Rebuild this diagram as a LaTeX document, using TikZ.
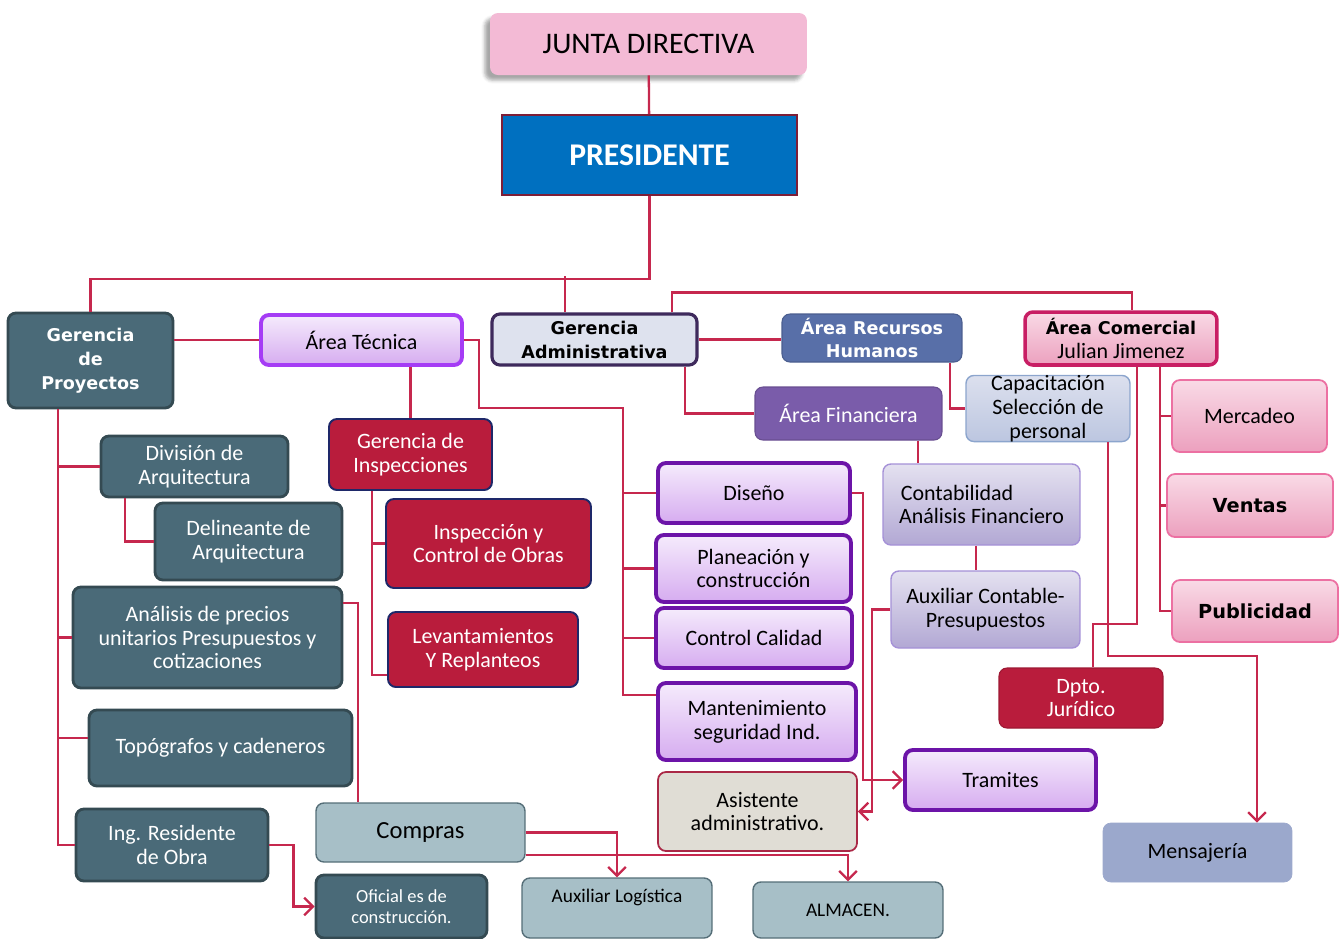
\documentclass[tikz,border=0pt]{standalone}
\usepackage{fontspec}
\setmainfont{Carlito}
\newfontfamily\heavyfont{DejaVu Sans}
\usepackage{tikz}
\usetikzlibrary{arrows.meta, shadows.blur}

\definecolor{linkred}{RGB}{198,40,78}
\definecolor{juntapink}{RGB}{243,186,213}
\definecolor{presblue}{RGB}{0,112,192}
\definecolor{presedge}{RGB}{125,30,55}
\definecolor{tealfill}{RGB}{74,106,120}
\definecolor{tealedge}{RGB}{52,74,82}
\definecolor{crimson}{RGB}{185,28,60}
\definecolor{navyedge}{RGB}{30,40,105}
\definecolor{lilactop}{RGB}{245,235,252}
\definecolor{lilacbot}{RGB}{214,172,240}
\definecolor{violetedge}{RGB}{108,20,168}
\definecolor{brightviolet}{RGB}{165,60,245}
\definecolor{gafill}{RGB}{222,226,238}
\definecolor{gaedge}{RGB}{62,42,92}
\definecolor{arhblue}{RGB}{88,111,168}
\definecolor{finpurple}{RGB}{122,92,170}
\definecolor{captop}{RGB}{220,224,238}
\definecolor{capbot}{RGB}{188,198,224}
\definecolor{capedge}{RGB}{140,165,205}
\definecolor{lavtop}{RGB}{228,225,240}
\definecolor{lavbot}{RGB}{178,168,212}
\definecolor{lavedge}{RGB}{165,145,215}
\definecolor{pinktop}{RGB}{249,218,230}
\definecolor{pinkbot}{RGB}{236,160,190}
\definecolor{pinkedge}{RGB}{236,112,162}
\definecolor{magentaedge}{RGB}{200,30,100}
\definecolor{asisfill}{RGB}{224,221,213}
\definecolor{asisedge}{RGB}{170,40,70}
\definecolor{mensfill}{RGB}{155,168,204}
\definecolor{greyfill}{RGB}{167,191,199}
\definecolor{greyedge}{RGB}{85,110,120}

\begin{document}
\begin{tikzpicture}[
    x=0.02cm, y=-0.02cm,
    font=\fontsize{12.5}{13.5}\selectfont,
    base/.style={rectangle, rounded corners=4.5pt, align=center, inner sep=2pt},
    heavy/.style={font=\heavyfont\bfseries\fontsize{10}{13.6}\selectfont},
    juntabox/.style={base, fill=juntapink, font=\fontsize{17}{20}\selectfont,
                     blur shadow={shadow xshift=-3pt, shadow yshift=-3pt, shadow opacity=35}},
    presbox/.style={rectangle, fill=presblue, draw=presedge, line width=1pt, text=white,
                    font=\fontsize{18}{20}\selectfont\bfseries},
    tealbox/.style={base, draw=tealedge, line width=1.6pt, fill=tealfill, text=white},
    redbox/.style={base, draw=navyedge, line width=1.1pt, fill=crimson, text=white},
    lilac/.style={base, draw=violetedge, line width=2.2pt, top color=lilactop, bottom color=lilacbot},
    lavbox/.style={base, draw=lavedge, line width=0.8pt, top color=lavtop, bottom color=lavbot},
    pinkbox/.style={base, draw=pinkedge, line width=1pt, top color=pinktop, bottom color=pinkbot},
    greybox/.style={base, draw=greyedge, line width=0.8pt, fill=greyfill},
    conn/.style={draw=linkred, line width=1.3pt},
    arr/.style={conn, -{Straight Barb[length=5pt, width=10pt]}}
]
\useasboundingbox (0,0) rectangle (1340,938);

% top of the chart
\node[juntabox, minimum width=6.34cm, minimum height=1.24cm] (junta) at (648.5,44) {JUNTA DIRECTIVA};
\node[presbox, minimum width=5.90cm, minimum height=1.60cm] (pres) at (649.5,155) {PRESIDENTE};

% second level
\node[tealbox, heavy, minimum width=3.30cm, minimum height=1.90cm] (gp) at (90.5,360.5) {Gerencia\\de\\Proyectos};
\node[lilac, draw=brightviolet, minimum width=4.02cm, minimum height=1.00cm] (atec) at (361.5,340) {Área Técnica};
\node[base, heavy, fill=gafill, draw=gaedge, line width=1.8pt, minimum width=4.10cm, minimum height=1.02cm] (gadm) at (594.5,339.5) {Gerencia\\Administrativa};
\node[base, heavy, fill=arhblue, draw=arhblue!85!black, line width=0.6pt, text=white, minimum width=3.60cm, minimum height=0.96cm] (arh) at (872,338) {Área Recursos\\Humanos};
\node[pinkbox, draw=magentaedge, line width=2pt, minimum width=3.84cm, minimum height=1.06cm] (acom) at (1121,338.5) {{\heavyfont\bfseries\fontsize{10}{13}\selectfont Área Comercial}\\Julian Jimenez};

% administrative side
\node[base, fill=finpurple, draw=finpurple!85!black, line width=0.6pt, text=white, minimum width=3.74cm, minimum height=1.06cm] (afin) at (848.5,413.5) {Área Financiera};
\node[base, top color=captop, bottom color=capbot, draw=capedge, line width=0.8pt, inner ysep=0pt, minimum width=3.28cm, minimum height=1.30cm] (capac) at (1048,408.5) {Capacitación\\Selección de\\personal};
\node[pinkbox, minimum width=3.10cm, minimum height=1.44cm] (merc) at (1249.5,416) {Mercadeo};
\node[pinkbox, heavy, font=\heavyfont\bfseries\fontsize{11}{13}\selectfont, minimum width=3.32cm, minimum height=1.26cm] (vent) at (1250,505.5) {Ventas};
\node[pinkbox, heavy, font=\heavyfont\bfseries\fontsize{11}{13}\selectfont, minimum width=3.32cm, minimum height=1.24cm] (publ) at (1255,611) {Publicidad};
\node[lavbox, align=left, minimum width=3.94cm, minimum height=1.62cm] (conta) at (981.5,504.5) {\hspace{1pt}Contabilidad\\Análisis Financiero};
\node[lavbox, minimum width=3.78cm, minimum height=1.54cm] (auxc) at (985.5,609.5) {Auxiliar Contable-\\Presupuestos};
\node[base, fill=crimson, draw=crimson!85!black, line width=0.6pt, text=white, minimum width=3.28cm, minimum height=1.20cm] (jur) at (1081,698) {Dpto.\\Jurídico};
\node[base, fill=mensfill, draw=mensfill, minimum width=3.78cm, minimum height=1.18cm] (mens) at (1197.5,852.5) {Mensajería};
\node[lilac, minimum width=3.82cm, minimum height=1.20cm] (tram) at (1000.5,780) {Tramites};
\node[base, fill=asisfill, draw=asisedge, line width=1pt, minimum width=3.98cm, minimum height=1.58cm] (asis) at (757.5,811.5) {Asistente\\administrativo.};

% technical side
\node[lilac, minimum width=3.84cm, minimum height=1.20cm] (dise) at (754,493) {Diseño};
\node[lilac, minimum width=3.90cm, minimum height=1.34cm] (plan) at (753.5,568.5) {Planeación y\\construcción};
\node[lilac, minimum width=3.92cm, minimum height=1.20cm] (ctrl) at (754,638) {Control Calidad};
\node[lilac, minimum width=3.96cm, minimum height=1.54cm] (mant) at (757,721.5) {Mantenimiento\\seguridad Ind.};
\node[redbox, minimum width=3.26cm, minimum height=1.42cm] (ginsp) at (410.5,454.5) {Gerencia de\\Inspecciones};
\node[redbox, minimum width=4.10cm, minimum height=1.78cm] (insp) at (488.5,543.5) {Inspección y\\Control de Obras};
\node[redbox, minimum width=3.80cm, minimum height=1.50cm] (lev) at (483,649.5) {Levantamientos\\Y Replanteos};

% projects side
\node[tealbox, minimum width=3.74cm, minimum height=1.22cm] (div) at (194.5,466.5) {División de\\Arquitectura};
\node[tealbox, minimum width=3.74cm, minimum height=1.54cm] (deli) at (248.5,541.5) {Delineante de\\Arquitectura};
\node[tealbox, minimum width=5.38cm, minimum height=2.02cm] (apu) at (207.5,637.5) {Análisis de precios\\unitarios Presupuestos y\\cotizaciones};
\node[tealbox, minimum width=5.26cm, minimum height=1.52cm] (topo) at (220.5,748) {Topógrafos y cadeneros};
\node[tealbox, minimum width=3.84cm, minimum height=1.44cm] (ing) at (172,845) {Ing. Residente\\de Obra};
\node[tealbox, font=\fontsize{10.5}{12}\selectfont, minimum width=3.42cm, minimum height=1.26cm] (ofic) at (401.5,906.5) {Oficial es de\\construcción.};
\node[greybox, font=\fontsize{14}{16}\selectfont, minimum width=4.18cm, minimum height=1.18cm] (comp) at (420.5,832.5) {Compras};
\node[greybox, font=\fontsize{11}{13}\selectfont, text depth=0.5cm, minimum width=3.80cm, minimum height=1.20cm] (auxl) at (617,908) {Auxiliar Logística};
\node[greybox, font=\fontsize{11}{13}\selectfont, minimum width=3.80cm, minimum height=1.12cm] (alm) at (848,910) {ALMACEN.};

% connectors
\draw[conn] (junta) -- (pres);
\draw[conn] (pres.south) -- ++(0,83) -| (gp.north);
\draw[conn] ([xshift=-0.59cm]gadm.north) -- ++(0,-36);
\draw[conn] (gp.east |- atec.west) -- (atec.west);
\draw[conn] (gadm.east) -- (gadm.east -| arh.west);
\draw[conn] ([xshift=1.55cm]gadm.north) -- ++(0,-20) -| ([xshift=0.22cm]acom.north);
\draw[conn] ([xshift=1.81cm]gadm.south) |- (afin.west);
\draw[conn] ([xshift=1.56cm]arh.south) |- (capac.west);
\foreach \n in {merc,vent,publ}
  \draw[conn] ([xshift=0.78cm]acom.south) |- (\n.west);
\draw[conn] ([xshift=0.32cm]acom.south) -- ++(0,257) -| ([xshift=0.24cm]jur.north);
\draw[arr] ([xshift=1.2cm]capac.south) -- ++(0,214) -| ([xshift=1.19cm]mens.north);
\draw[conn] ([xshift=1.39cm]afin.south) -- ([xshift=1.39cm]afin.south |- conta.north);
\draw[conn] ([xshift=-0.11cm]conta.south) -- ([xshift=-0.11cm]conta.south |- auxc.north);
\draw[arr] (auxc.west) -- ++(-18,0) |- (asis.east);
\draw[arr] (dise.east) -- ++(11,0) |- (tram.west);

\coordinate (tbus) at (623,408);
\draw[conn] (atec.east) -- ++(15,0) |- (tbus) |- ([yshift=0.53cm]mant.west);
\foreach \n in {dise,plan,ctrl}
  \draw[conn] (tbus |- \n.west) -- (\n.west);
\draw[conn] (ginsp.north |- atec.south) -- (ginsp.north);
\draw[conn] ([xshift=-0.77cm]ginsp.south) |- (insp.west);
\draw[conn] ([xshift=-0.77cm]ginsp.south) |- ([yshift=-0.51cm]lev.west);

\foreach \n in {div,apu,ing}
  \draw[conn] ([xshift=-0.65cm]gp.south) |- (\n.west);
\draw[conn] ([xshift=-0.65cm]gp.south) |- ([yshift=0.2cm]topo.west);
\draw[conn] ([xshift=-1.39cm]div.south) |- (deli.west);
\draw[conn] ([yshift=0.69cm]apu.east) -| ([xshift=-1.25cm]comp.north);
\draw[arr] (ing.east) -- ++(24,0) |- (ofic.west);
\draw[arr] (comp.east) -| (auxl.north);
\draw[arr] ([yshift=-0.45cm]comp.east) -| (alm.north);
\end{tikzpicture}
\end{document}
